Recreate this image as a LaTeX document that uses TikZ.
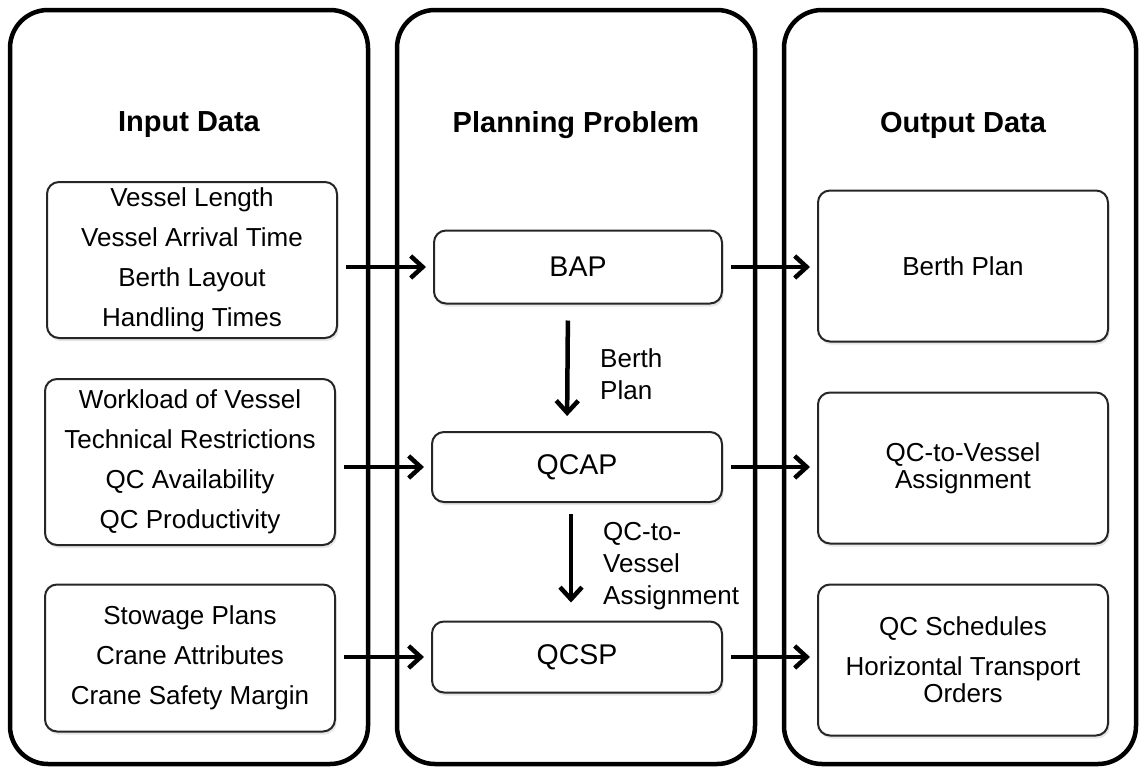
\documentclass[tikz,border=0pt]{standalone}
\usepackage{fontspec}
\setmainfont{Liberation Sans}
\usetikzlibrary{arrows.meta,shadows}
\tikzset{
	panel/.style={draw,line width=4.5pt,rounded corners=38pt,minimum width=358pt,minimum height=754pt,inner sep=0pt},
	box/.style={draw=black!85,line width=2pt,rounded corners=12pt,fill=white,align=center,minimum width=290pt,
		drop shadow={opacity=.2,shadow xshift=1.5pt,shadow yshift=-3pt},font=\fontsize{26}{27}\selectfont},
	prob/.style={box,font=\fontsize{28.5}{30}\selectfont},
	head/.style={font=\fontsize{29}{34}\selectfont\bfseries},
	lbl/.style={align=left,anchor=west,inner sep=0pt,font=\fontsize{26}{32}\selectfont},
	flow/.style={line width=4.5pt,-{Straight Barb[length=12pt,width=22pt]},shorten <=8pt,shorten >=7pt}
}
\begin{document}
\begin{tikzpicture}[x=1pt,y=-1pt]
	\useasboundingbox (0,0) rectangle (1141,769);
	% three columns
	\node[panel] (pin) at (189,387) {};
	\node[panel] (pplan) at (576,387) {};
	\node[panel,minimum width=352pt] (pout) at (960,387) {};
	\node[head] (hin) at (189,125) {Input Data};
	\node[head] (hplan) at (576,125) {Planning Problem};
	\node[head] (hout) at (963,125) {Output Data};
	% input data
	\node[box,minimum height=156pt] (in1) at (192,260) {Vessel Length\\[13pt]Vessel Arrival Time\\[13pt]Berth Layout\\[13pt]Handling Times};
	\node[box,minimum height=166pt] (in2) at (190,462) {Workload of Vessel\\[13pt]Technical Restrictions\\[13pt]QC Availability\\[13pt]QC Productivity};
	\node[box,minimum height=147pt] (in3) at (190,658) {Stowage Plans\\[13pt]Crane Attributes\\[13pt]Crane Safety Margin};
	% planning problems
	\node[prob,minimum width=288pt,minimum height=73pt] (bap) at (578,267) {BAP};
	\node[prob,minimum height=70pt] (qcap) at (577,467) {QCAP};
	\node[prob,minimum height=71pt] (qcsp) at (577,657) {QCSP};
	% output data
	\node[box,minimum height=151pt] (out1) at (963,266) {Berth Plan};
	\node[box,minimum height=151pt] (out2) at (963,468) {QC-to-Vessel\\Assignment};
	\node[box,minimum height=151pt] (out3) at (963,660) {QC Schedules\\[13pt]Horizontal Transport\\Orders};
	% flows
	\draw[flow] (in1.east |- bap.west) -- (bap.west);
	\draw[flow] (in2.east |- qcap.west) -- (qcap.west);
	\draw[flow] (in3.east |- qcsp.west) -- (qcsp.west);
	\draw[flow] (bap.east) -- (out1.west |- bap.east);
	\draw[flow] (qcap.east) -- (out2.west |- qcap.east);
	\draw[flow] (qcsp.east) -- (out3.west |- qcsp.east);
	\draw[flow,shorten <=16pt,shorten >=15pt] ([xshift=-10pt]bap.south) -- ([xshift=-10pt]qcap.north);
	\draw[flow,shorten <=11pt,shorten >=18pt] ([xshift=-6pt]qcap.south) -- ([xshift=-6pt]qcsp.north);
	\node[lbl] (l1) at (600,374) {Berth\\Plan};
	\node[lbl] (l2) at (603,566) {QC-to-\\Vessel\\Assignment};
\end{tikzpicture}
\end{document}
